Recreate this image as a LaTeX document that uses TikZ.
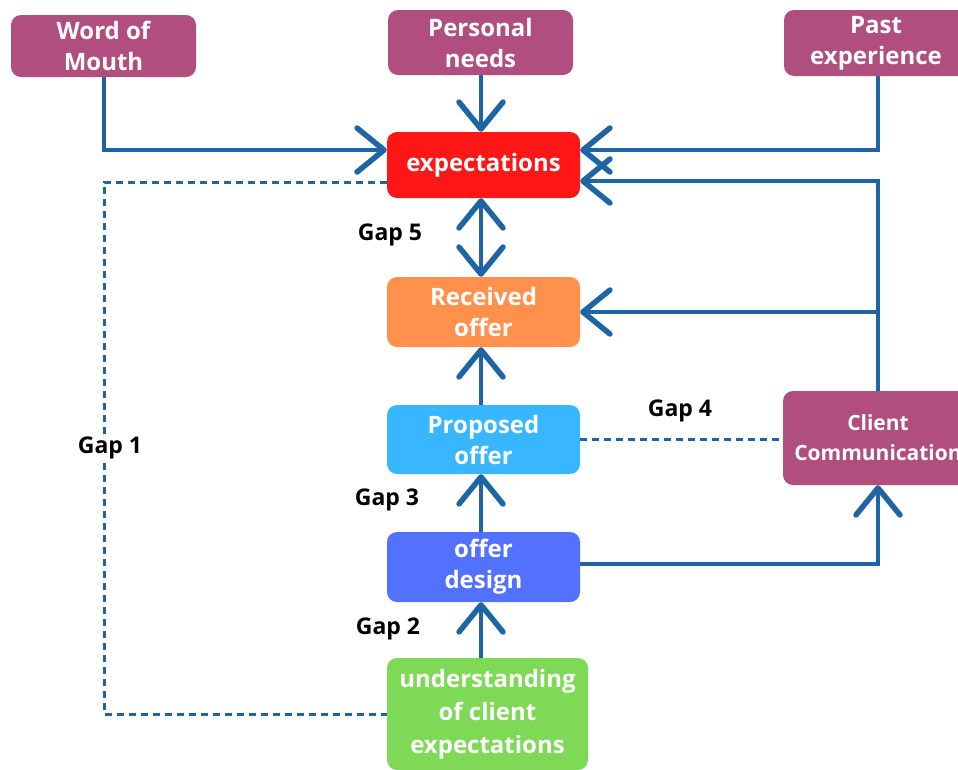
\documentclass[tikz,border=0pt]{standalone}
\usepackage{fontspec}
\setmainfont{Open Sans}
\usetikzlibrary{arrows.meta}

\definecolor{plum}{HTML}{AF4E7F}
\definecolor{expred}{HTML}{FF1616}
\definecolor{recorange}{HTML}{FF914D}
\definecolor{propblue}{HTML}{38B6FF}
\definecolor{designblue}{HTML}{5271FF}
\definecolor{undgreen}{HTML}{7ED957}
\definecolor{flow}{HTML}{1F64A3}

\begin{document}
\begin{tikzpicture}[x=1pt,y=-1pt,
  box/.style={rectangle, rounded corners=10pt, text=white, align=center,
    inner sep=0pt, font=\fontsize{24}{31}\selectfont\bfseries},
  conn/.style={draw=flow, line width=4pt},
  barb/.tip={Straight Barb[length=27pt,width=44pt,line width=5.5pt,round]},
  link/.style={conn, -barb},
  twoway/.style={conn, barb-barb},
  gapline/.style={draw=flow, line width=3pt, dash pattern=on 7pt off 5pt},
  gaplabel/.style={font=\fontsize{23}{27}\selectfont\bfseries, text=black, inner sep=2pt}
]
\useasboundingbox (0,0) rectangle (958,769);
\clip (0,0) rectangle (958,769);

% reference columns for the vertical connectors
\coordinate (cx) at (481,0);
\coordinate (gl) at (104,0);
\coordinate (rt) at (878,0);

% influences on expectations
\node[box, fill=plum, minimum width=185pt, minimum height=62pt] (wom) at (103.5,46) {Word of\\Mouth};
\node[box, fill=plum, minimum width=185pt, minimum height=65pt] (pn) at (480.5,42.5) {Personal\\needs};
\node[box, fill=plum, minimum width=184pt, minimum height=66pt] (pe) at (876,43) {Past\\experience};

% central chain
\node[box, fill=expred, minimum width=193pt, minimum height=66pt] (exp) at (483.5,165) {expectations};
\node[box, fill=recorange, minimum width=193pt, minimum height=70pt] (rec) at (483.5,312) {Received\\offer};
\node[box, fill=propblue, minimum width=193pt, minimum height=69pt] (prop) at (483.5,439.5) {Proposed\\offer};
\node[box, fill=designblue, minimum width=193pt, minimum height=70pt] (des) at (483.5,567) {offer\\design};
\node[box, fill=undgreen, minimum width=201pt, minimum height=112pt, font=\fontsize{24}{33}\selectfont\bfseries] (und) at (487.5,714) {understanding\\of client\\expectations};

% communication to clients
\node[box, fill=plum, minimum width=190pt, minimum height=94pt, font=\fontsize{21}{30}\selectfont\bfseries] (cc) at (878,438) {Client\\Communication};

% solid flows
\draw[link] (wom.south) |- ([yshift=15pt]exp.west);
\draw[link] (pn.south -| cx) -- (exp.north -| cx);
\draw[link] (pe.south -| rt) |- ([yshift=15pt]exp.east);
\draw[link] (cc.north) |- ([yshift=-16pt]exp.east);
\draw[link] (cc.north) |- (rec.east);
\draw[twoway] (exp.south -| cx) -- (rec.north -| cx);
\draw[link] (prop.north -| cx) -- (rec.south -| cx);
\draw[link] (des.north -| cx) -- (prop.south -| cx);
\draw[link] (und.north -| cx) -- (des.south -| cx);
\draw[link] ([yshift=3pt]des.east) -| (cc.south);

% gaps
\draw[gapline] (prop.east) -- (cc.west |- prop.east);
\draw[gapline] ([yshift=-17pt]exp.west) -| (gl |- und.west) -- (und.west);

\node[gaplabel, fill=white] (g1) at (110,448) {Gap 1};
\node[gaplabel] (g2) at (388,629) {Gap 2};
\node[gaplabel] (g3) at (387,500) {Gap 3};
\node[gaplabel] (g4) at (680,411) {Gap 4};
\node[gaplabel] (g5) at (390,235) {Gap 5};
\end{tikzpicture}
\end{document}
